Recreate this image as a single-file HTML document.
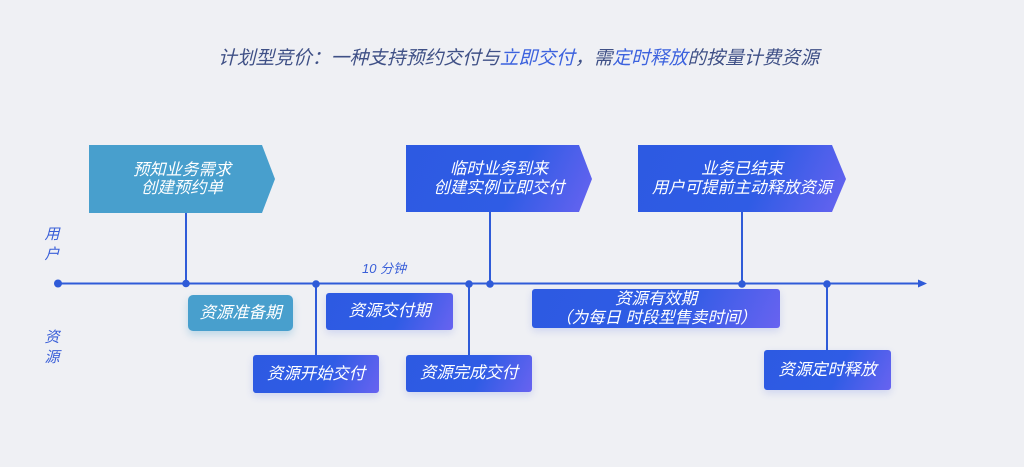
<!DOCTYPE html>
<html><head><meta charset="utf-8"><style>
html,body{margin:0;padding:0;}
body{width:1024px;height:467px;background:#eff0f4;position:relative;overflow:hidden;font-family:"Liberation Sans","Noto Sans CJK SC",sans-serif;}
.t{position:absolute;left:218px;top:46px;font-size:18.8px;line-height:24px;color:#3f5086;font-style:italic;white-space:nowrap;}
.t b{font-weight:normal;color:#3c62de;}
.box{position:absolute;color:#fff;font-style:italic;font-size:16.4px;display:flex;align-items:center;justify-content:center;text-align:center;line-height:18.5px;white-space:nowrap;}
.blue{background:linear-gradient(115deg,#2d5ae2 0%,#2f5ce5 58%,#6863f0 100%);}
.sm{border-radius:3px;box-shadow:0 3px 8px rgba(60,90,220,0.18);}
.lab{position:absolute;font-style:italic;color:#3a5fd8;font-size:15px;line-height:20px;width:20px;text-align:center;}
</style></head><body>
<div class="t">计划型竞价：一种支持预约交付与<b>立即交付</b>，需<b>定时释放</b>的按量计费资源</div>

<svg width="1024" height="467" style="position:absolute;left:0;top:0">
  <g stroke="#2f5bd8" stroke-width="2" fill="none">
    <line x1="58" y1="283.5" x2="920" y2="283.5"/>
    <line x1="186" y1="212" x2="186" y2="283"/>
    <line x1="490" y1="212" x2="490" y2="283"/>
    <line x1="742" y1="212" x2="742" y2="283"/>
    <line x1="316" y1="284" x2="316" y2="356"/>
    <line x1="469" y1="284" x2="469" y2="356"/>
    <line x1="827" y1="284" x2="827" y2="351"/>
  </g>
  <polygon points="918,279.5 927,283.5 918,287.5" fill="#2f5bd8"/>
  <g fill="#2f5bd8">
    <circle cx="58" cy="283.5" r="4"/>
    <circle cx="186" cy="283.5" r="3.8"/>
    <circle cx="316" cy="284" r="3.8"/>
    <circle cx="469" cy="284" r="3.8"/>
    <circle cx="490" cy="284" r="3.8"/>
    <circle cx="742" cy="284" r="3.8"/>
    <circle cx="827" cy="284" r="3.8"/>
  </g>
  <text x="362" y="273" font-size="13" font-style="italic" fill="#3a5fd8" font-family="Liberation Sans, Noto Sans CJK SC, sans-serif">10 分钟</text>
</svg>

<div class="lab" style="left:42px;top:225px">用<br>户</div>
<div class="lab" style="left:42px;top:328px">资<br>源</div>

<div class="box" style="left:89px;top:145px;width:186px;height:68px;background:#489fcd;clip-path:polygon(0 0,173px 0,186px 34px,173px 68px,0 68px);">预知业务需求<br>创建预约单</div>
<div class="box blue" style="left:406px;top:145px;width:186px;height:67px;clip-path:polygon(0 0,173px 0,186px 34px,173px 67px,0 67px);">临时业务到来<br>创建实例立即交付</div>
<div class="box blue" style="left:638px;top:145px;width:208px;height:67px;clip-path:polygon(0 0,194px 0,208px 34px,194px 67px,0 67px);">业务已结束<br>用户可提前主动释放资源</div>

<div class="box sm" style="left:188px;top:295px;width:105px;height:36px;background:#489fcd;border-radius:5px;box-shadow:0 4px 8px rgba(72,159,205,0.3);">资源准备期</div>
<div class="box blue sm" style="left:326px;top:293px;width:127px;height:37px;">资源交付期</div>
<div class="box blue sm" style="left:253px;top:355px;width:126px;height:38px;">资源开始交付</div>
<div class="box blue sm" style="left:406px;top:355px;width:126px;height:37px;">资源完成交付</div>
<div class="box blue sm" style="left:532px;top:289px;width:248px;height:39px;">资源有效期<br>（为每日 时段型售卖时间）</div>
<div class="box blue sm" style="left:764px;top:350px;width:127px;height:40px;">资源定时释放</div>
</body></html>
